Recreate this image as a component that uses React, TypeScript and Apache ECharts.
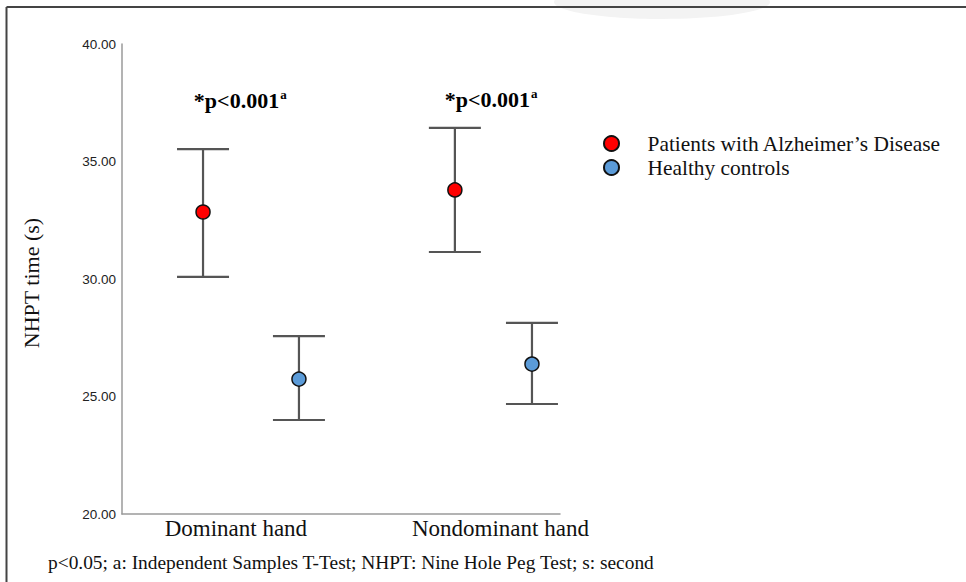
import React, { useEffect, useRef } from "react";
import * as echarts from "echarts";

// ---- data ----
const categories = ["Dominant hand", "Nondominant hand"];
const seriesNames = ["Patients with Alzheimer\u2019s Disease", "Healthy controls"];
const adMean = [32.85, 33.79];
const adLower = [30.09, 31.15];
const adUpper = [35.53, 36.43];
const hcMean = [25.74, 26.38];
const hcLower = [24.0, 24.68];
const hcUpper = [27.57, 28.13];
const pTexts = ["*p<0.001", "*p<0.001"];
const pSup = ["a", "a"];
const yTicks = [20, 25, 30, 35, 40];
const footnote = "p<0.05; a: Independent Samples T-Test; NHPT: Nine Hole Peg Test; s: second";

// ---- layout (x positions on a hidden 0..100 value scale) ----
const adX = [18.5, 76.0];
const hcX = [40.4, 93.6];
const catX = [26.0, 86.4];
const pX = [27.0, 84.3];
const pY = [37.6, 37.65];

const SERIF = "'Liberation Serif', 'Times New Roman', serif";
const SANS = "'Liberation Sans', Arial, sans-serif";

export default function App() {
  const ref = useRef<HTMLDivElement>(null);
  useEffect(() => {
    if (!ref.current) return;
    const chart = echarts.init(ref.current, null, { renderer: "svg" });

    const errRender = (params: any, api: any) => {
      const x = api.value(0);
      const lo = api.coord([x, api.value(1)]);
      const hi = api.coord([x, api.value(2)]);
      const hw = 26;
      const style = { stroke: "#555555", lineWidth: 2.2 };
      return {
        type: "group",
        children: [
          { type: "line", shape: { x1: lo[0], y1: lo[1], x2: hi[0], y2: hi[1] }, style },
          { type: "line", shape: { x1: lo[0] - hw, y1: lo[1], x2: lo[0] + hw, y2: lo[1] }, style },
          { type: "line", shape: { x1: hi[0] - hw, y1: hi[1], x2: hi[0] + hw, y2: hi[1] }, style },
        ],
      };
    };

    const option: any = {
      animation: false,
      backgroundColor: "#ffffff",
      grid: { left: 122, right: 406, top: 44, bottom: 68, containLabel: false },
      xAxis: {
        type: "value",
        min: 0,
        max: 100,
        axisLine: { show: true, lineStyle: { color: "#9a9a9a", width: 1.5 } },
        axisTick: { show: false },
        splitLine: { show: false },
        axisLabel: {
          show: true,
          customValues: catX,
          formatter: (v: number) => {
            const i = catX.findIndex((c) => Math.abs(c - v) < 1e-6);
            return i >= 0 ? categories[i] : "";
          },
          fontFamily: SERIF,
          fontSize: 23,
          color: "#111111",
          margin: 3,
        },
      },
      yAxis: {
        type: "value",
        min: 20,
        max: 40,
        interval: 5,
        name: "NHPT time (s)",
        nameLocation: "middle",
        nameGap: 80,
        nameTextStyle: { fontFamily: SERIF, fontSize: 22, color: "#111111", padding: [0, 8, 0, 0] },
        axisLine: { show: true, lineStyle: { color: "#9a9a9a", width: 1.5 } },
        axisTick: { show: false },
        splitLine: { show: false },
        axisLabel: {
          fontFamily: SANS,
          fontSize: 13.5,
          color: "#222222",
          margin: 6,
          formatter: (v: number) => (yTicks.includes(v) ? v.toFixed(2) : ""),
        },
      },
      legend: {
        data: seriesNames,
        orient: "vertical",
        left: 598,
        top: 128,
        itemWidth: 16,
        itemHeight: 15,
        itemGap: 3,
        textStyle: {
          fontFamily: SERIF,
          fontSize: 21.4,
          color: "#111111",
          lineHeight: 21,
          padding: [0, 0, 0, 23],
        },
      },
      graphic: [
        {
          type: "ellipse",
          shape: { cx: 662, cy: 2, rx: 108, ry: 17 },
          style: { fill: "#f3f3f3" },
          silent: true,
          z: -1,
        },
        {
          type: "line",
          shape: { x1: 6.5, y1: 7, x2: 966, y2: 7 },
          style: { stroke: "#444444", lineWidth: 2 },
          silent: true,
        },
        {
          type: "line",
          shape: { x1: 6.5, y1: 7, x2: 6.5, y2: 582 },
          style: { stroke: "#444444", lineWidth: 2 },
          silent: true,
        },
        {
          type: "text",
          left: 48,
          top: 553,
          style: { text: footnote, fontFamily: SERIF, fontSize: 19.4, fill: "#111111" },
          silent: true,
        },
      ],
      series: [
        {
          name: "adErr",
          type: "custom",
          renderItem: errRender,
          encode: { x: 0, y: [1, 2] },
          data: adMean.map((_, i) => [adX[i], adLower[i], adUpper[i]]),
          z: 1,
          silent: true,
        },
        {
          name: "hcErr",
          type: "custom",
          renderItem: errRender,
          encode: { x: 0, y: [1, 2] },
          data: hcMean.map((_, i) => [hcX[i], hcLower[i], hcUpper[i]]),
          z: 1,
          silent: true,
        },
        {
          name: seriesNames[0],
          type: "scatter",
          symbol: "circle",
          symbolSize: 14,
          itemStyle: { color: "#ff0000", borderColor: "#111111", borderWidth: 1.5, opacity: 1 },
          data: adMean.map((m, i) => [adX[i], m]),
          z: 3,
        },
        {
          name: seriesNames[1],
          type: "scatter",
          symbol: "circle",
          symbolSize: 14,
          itemStyle: { color: "#5b9bd8", borderColor: "#111111", borderWidth: 1.5, opacity: 1 },
          data: hcMean.map((m, i) => [hcX[i], m]),
          z: 3,
        },
        {
          name: "pvalues",
          type: "scatter",
          symbolSize: 0,
          silent: true,
          itemStyle: { opacity: 1 },
          data: pTexts.map((t, i) => ({ value: [pX[i], pY[i]], name: t })),
          label: {
            show: true,
            position: "inside",
            formatter: (p: any) => `{m|${pTexts[p.dataIndex]}}{s|${pSup[p.dataIndex]}}`,
            rich: {
              m: { fontFamily: SERIF, fontWeight: "bold", fontSize: 22, color: "#000000", lineHeight: 24 },
              s: {
                fontFamily: SERIF,
                fontWeight: "bold",
                fontSize: 13,
                color: "#000000",
                verticalAlign: "top",
                lineHeight: 24,
                padding: [0, 0, 0, 1],
              },
            },
          },
          z: 4,
        },
      ],
    };
    chart.setOption(option);
    return () => chart.dispose();
  }, []);

  return (
    <div
      ref={ref}
      style={{ position: "fixed", left: 0, top: 0, width: 966, height: 582, background: "#fff" }}
    />
  );
}
